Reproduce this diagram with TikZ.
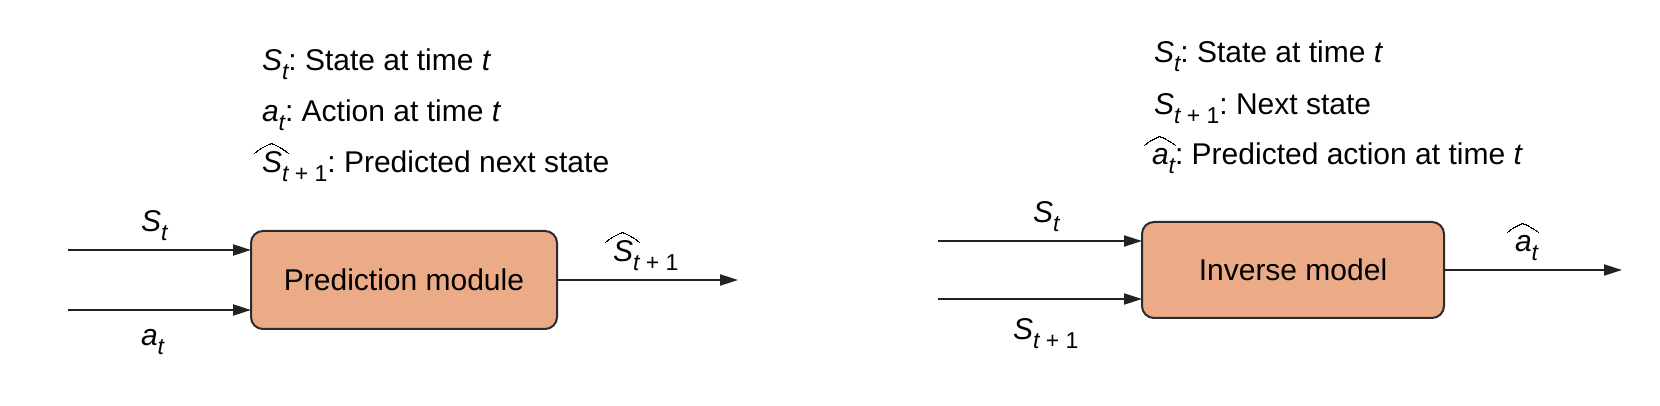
\documentclass[tikz,border=0pt]{standalone}
\usepackage{fix-cm}
\usepackage{fontspec}
\setmainfont{Liberation Sans}
\usetikzlibrary{arrows.meta}
\definecolor{boxfill}{HTML}{EBAB87}
\definecolor{bordercol}{HTML}{2B2B2B}
\definecolor{arrowcol}{HTML}{222222}
\frenchspacing
\newcommand{\mysub}[1]{\raisebox{-0.3em}{\fontsize{11.5}{12}\selectfont\itshape #1}}
\newcommand{\myvar}[1]{{\itshape #1}}
\newcommand{\myhat}[1]{\setbox0=\hbox{#1}%
  \setlength{\unitlength}{\dimexpr\wd0+0.25em\relax}%
  \makebox[0pt][l]{\hspace*{-0.25em}\raisebox{0.66em}{\linethickness{0.55pt}%
    \begin{picture}(1,0.3)\qbezier(0,0)(0.3,0.22)(0.5,0.28)\qbezier(0.5,0.28)(0.7,0.22)(1,0)\end{picture}}}%
  \box0}
\newcommand{\plusone}{\mysub{\ {\upshape + 1}}}
\begin{document}
\begin{tikzpicture}[x=0.5pt,y=-0.5pt,
  every node/.style={font=\fontsize{15}{18}\selectfont, inner sep=0pt, outer sep=0pt, text=black},
  module/.style={draw=bordercol, fill=boxfill, line width=1pt, rounded corners=6pt},
  flow/.style={draw=arrowcol, line width=1pt, -{Triangle[length=9pt,width=5.5pt]}},
  lbl/.style={anchor=base west}]
\useasboundingbox (0,0) rectangle (1660,406);

% ---- left: prediction module ----
\node[lbl] (l1) at (262,71) {\myvar{S}\mysub{t}: State at time \myvar{t}};
\node[lbl] (l2) at (262,122) {\myvar{a}\mysub{t}: Action at time \myvar{t}};
\node[lbl] (l3) at (262,173) {\myhat{\myvar{S}\mysub{t}}\plusone: Predicted next state};

\node[module, minimum width=153pt, minimum height=49pt] (box1) at (404,280) {Prediction module};
\coordinate (s1) at (68,250);
\coordinate (a1) at (68,310);
\coordinate (o1) at (738,280);
\draw[flow] (s1) -- (s1 -| box1.west);
\draw[flow] (a1) -- (a1 -| box1.west);
\draw[flow] (box1.east) -- (o1);
\node[lbl] (ls1) at (141,232) {\myvar{S}\mysub{t}};
\node[lbl] (la1) at (141,345) {\myvar{a}\mysub{t}};
\node[lbl] (lo1) at (613,262) {\myhat{\myvar{S}\mysub{t}}\plusone};

% ---- right: inverse model ----
\node[lbl] (r1) at (1154,63) {\myvar{S}\mysub{t}: State at time \myvar{t}};
\node[lbl] (r2) at (1154,115) {\myvar{S}\mysub{t {\upshape + 1}}: Next state};
\node[lbl] (r3) at (1152,165) {\myhat{\myvar{a}\mysub{t}}: Predicted action at time \myvar{t}};

\node[module, minimum width=151pt, minimum height=48pt] (box2) at (1293,270) {Inverse model};
\coordinate (s2) at (938,241);
\coordinate (n2) at (938,299);
\coordinate (o2) at (1622,270);
\draw[flow] (s2) -- (s2 -| box2.west);
\draw[flow] (n2) -- (n2 -| box2.west);
\draw[flow] (box2.east) -- (o2);
\node[lbl] (ls2) at (1033,223) {\myvar{S}\mysub{t}};
\node[lbl] (ln2) at (1013,340) {\myvar{S}\mysub{t {\upshape + 1}}};
\node[lbl] (lo2) at (1515,252) {\myhat{\myvar{a}\mysub{t}}};
\end{tikzpicture}
\end{document}
